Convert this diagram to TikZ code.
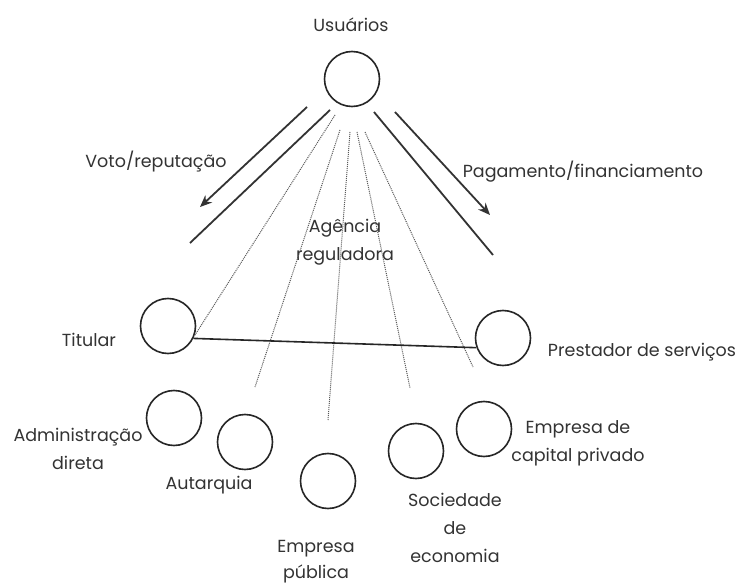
\documentclass[tikz,border=0pt]{standalone}
\usepackage{fontspec}
\setmainfont{Poppins}
\usetikzlibrary{arrows.meta}
\begin{document}
\begin{tikzpicture}[x=1pt,y=-1pt,
  ent/.style={circle,draw=black!85,line width=1.6pt,minimum size=55pt,inner sep=0pt},
  lbl/.style={text=black!80,font=\fontsize{17.5}{28}\selectfont,align=center,inner sep=0pt},
  flow/.style={draw=black!80,line width=1.8pt},
  flowarrow/.style={flow,-{Stealth[length=12pt,width=10pt]}},
  reg/.style={draw=black!65,line width=1pt,densely dotted},
  tie/.style={draw=black!85,line width=1.6pt}]
\useasboundingbox (0,0) rectangle (744,588);
\fill[white] (0,0) rectangle (744,588);
% entities
\node[ent] (usu) at (352,79) {};
\node[ent] (tit) at (168,326) {};
\node[ent] (pre) at (503,338) {};
\node[ent] (adm) at (174,418) {};
\node[ent] (aut) at (245,442) {};
\node[ent] (emp) at (328,481) {};
\node[ent] (soc) at (416,451) {};
\node[ent] (cap) at (484,429) {};
% labels
\node[lbl] (tusu) at (351,25) {Usuários};
\node[lbl] (ttit) at (89,340) {Titular};
\node[lbl] (tpre) at (642,352) {Prestador de serviços};
\node[lbl] (tadm) at (78,449) {Administração\\direta};
\node[lbl] (taut) at (209,485) {Autarquia};
\node[lbl,font=\fontsize{17.5}{26}\selectfont] (temp) at (316,562) {Empresa\\pública};
\node[lbl] (tsoc) at (455,528) {Sociedade\\de\\economia};
\node[lbl] (tcap) at (578,443) {Empresa de\\capital privado};
\node[lbl] (tvoto) at (156,162) {Voto/reputação};
\node[lbl] (tpag) at (583,172) {Pagamento/financiamento};
\node[lbl] (tage) at (345,242) {Agência\\reguladora};
% flow lines
\coordinate (la1) at (307,107); \coordinate (la2) at (200,207);
\coordinate (lp1) at (330,110); \coordinate (lp2) at (190,243);
\coordinate (rp1) at (374,112); \coordinate (rp2) at (493,255);
\coordinate (ra1) at (395,112); \coordinate (ra2) at (490,215);
\draw[flowarrow] (la1) -- (la2);
\draw[flow] (lp1) -- (lp2);
\draw[flow] (rp1) -- (rp2);
\draw[flowarrow] (ra1) -- (ra2);
% regulator lines
\coordinate (d1a) at (335,115);
\coordinate (d2a) at (340,130); \coordinate (d2b) at (255,387);
\coordinate (d3a) at (350,132); \coordinate (d3b) at (328,420);
\coordinate (d4a) at (357,132); \coordinate (d4b) at (410,388);
\coordinate (d5a) at (365,132); \coordinate (d5b) at (473,367);
\draw[reg] (d1a) -- (tit.-20);
\draw[reg] (d2a) -- (d2b);
\draw[reg] (d3a) -- (d3b);
\draw[reg] (d4a) -- (d4b);
\draw[reg] (d5a) -- (d5b);
% titular - prestador
\draw[tie] (tit.-26) -- (pre.200);
\end{tikzpicture}
\end{document}
